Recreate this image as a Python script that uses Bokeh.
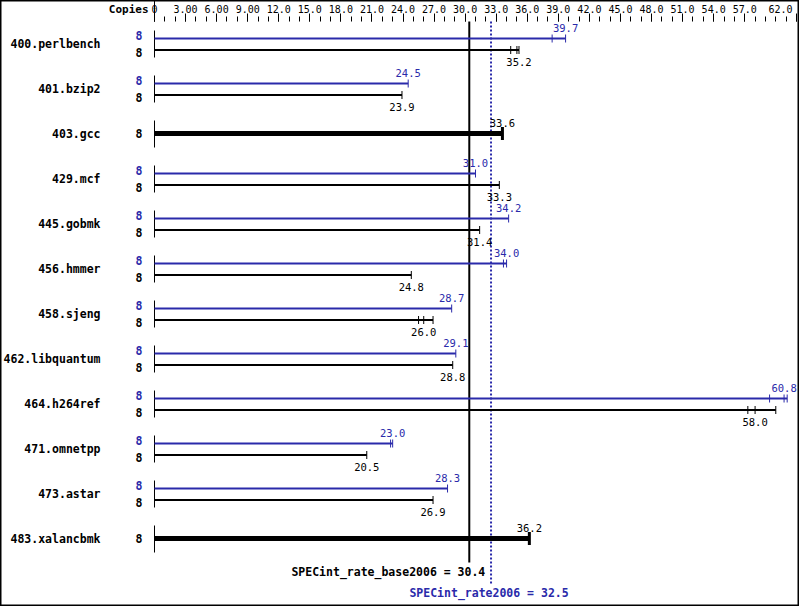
import math
from bokeh.plotting import figure
from bokeh.models import Range1d, LinearAxis, FixedTicker
from bokeh.core.properties import value
from bokeh.embed import file_html
from bokeh.resources import INLINE

# ---------------- data ----------------
benchmarks = ["400.perlbench", "401.bzip2", "403.gcc", "429.mcf", "445.gobmk", "456.hmmer",
              "458.sjeng", "462.libquantum", "464.h264ref", "471.omnetpp", "473.astar", "483.xalancbmk"]
base_copies = [8, 8, 8, 8, 8, 8, 8, 8, 8, 8, 8, 8]
peak_copies = [8, 8, None, 8, 8, 8, 8, 8, 8, 8, 8, None]
base_ratio = [35.2, 23.9, 33.6, 33.3, 31.4, 24.8, 26.0, 28.8, 58.0, 20.5, 26.9, 36.2]
peak_ratio = [39.7, 24.5, None, 31.0, 34.2, 34.0, 28.7, 29.1, 60.8, 23.0, 28.3, None]
base_runs = [[34.4, 35.0, 35.2], [23.9], [33.6], [33.3], [31.4], [24.8],
             [25.5, 26.0, 26.9], [28.8], [57.3, 58.0, 60.0], [20.5], [26.9], [36.2]]
peak_runs = [[38.4, 39.7], [24.5], None, [31.0], [34.2], [33.7, 34.0],
             [28.7], [29.1], [59.4, 60.8, 61.1], [22.8, 23.0], [28.3], None]
tick_values = [0, 3, 6, 9, 12, 15, 18, 21, 24, 27, 30, 33, 36, 39, 42, 45, 48, 51, 54, 57, 62]
tick_labels = ["0", "3.00", "6.00", "9.00", "12.0", "15.0", "18.0", "21.0", "24.0", "27.0",
               "30.0", "33.0", "36.0", "39.0", "42.0", "45.0", "48.0", "51.0", "54.0", "57.0", "62.0"]
base_overall = 30.4
peak_overall = 32.5
base_metric = "SPECint_rate_base2006"
peak_metric = "SPECint_rate2006"
copies_header = "Copies"

# ---------------- layout / style ----------------
BLUE = "#2a2aaa"
BLACK = "#000000"
MONO = "DejaVu Sans Mono"
W, H = 799, 606
X0_PX, X62_PX = 154, 796          # canvas x of value 0 and of 62
PXU = (X62_PX - X0_PX) / 62.0      # pixels per unit
ROW0, PITCH = 43, 45               # canvas y of first row centre, row pitch
PX = 1.0 / PITCH                   # row units per pixel


def ry(canvas_y):
    return (canvas_y - ROW0) / PITCH


p = figure(width=W, height=H,
           x_range=Range1d(-X0_PX / PXU, (W - X0_PX) / PXU),
           y_range=Range1d(ry(H), ry(0)),
           output_backend="svg", toolbar_location=None,
           x_axis_location=None, y_axis_location=None, min_border=0)
p.grid.visible = False
p.outline_line_color = BLACK
p.outline_line_width = 2
p.background_fill_color = "white"
p.border_fill_color = "white"

AXIS_Y = ry(21)
ax = LinearAxis(ticker=FixedTicker(ticks=tick_values, minor_ticks=list(range(0, 63))),
                fixed_location=AXIS_Y)
ax.major_label_overrides = {v: (lab if v != tick_values[-1] else "") for v, lab in zip(tick_values, tick_labels)}
ax.axis_line_color = None
ax.major_tick_out = 8
ax.major_tick_in = 0
ax.minor_tick_out = 5
ax.minor_tick_in = 0
ax.major_tick_line_color = BLACK
ax.minor_tick_line_color = BLACK
ax.major_label_standoff = 1
ax.major_label_text_font = MONO
ax.major_label_text_font_size = "10px"
ax.major_label_text_color = BLACK
p.add_layout(ax, "above")

# header texts and separator
HEAD_Y = ry(8)
p.text(x=[tick_values[-1]], y=[HEAD_Y], text=[tick_labels[-1]], x_offset=-4, text_align="right",
       text_baseline="middle", text_font=value(MONO), text_font_size="10px", text_color=BLACK)
p.text(x=[0], y=[ry(9)], text=[copies_header], x_offset=-6, text_align="right",
       text_baseline="middle", text_font=value(MONO), text_font_size="11px",
       text_font_style="bold", text_color=BLACK)
p.segment(x0=[0], x1=[0], y0=[ry(0)], y1=[AXIS_Y], line_color=BLACK, line_width=1)

# ---------------- rows ----------------
row_y0, row_y1 = [], []
cp_x, cp_y, cp_t, cp_c = [], [], [], []
bar = {"p": [[], []], "b": [[], []], "s": [[], []]}
caps = {"p": [[], []], "b": [[], []], "s": [[], []]}
vl = {"p": [[], [], []], "b": [[], [], []], "s": [[], [], []]}

for i, name in enumerate(benchmarks):
    row_y0.append(i - 13 * PX)
    row_y1.append(i + 14 * PX)
    if peak_ratio[i] is None:
        yb = i
        bar["s"][0].append(max(base_runs[i])); bar["s"][1].append(yb)
        for r in base_runs[i]:
            caps["s"][0].append(r); caps["s"][1].append(yb)
        vl["s"][0].append(base_ratio[i]); vl["s"][1].append(yb - 11 * PX); vl["s"][2].append(f"{base_ratio[i]:.1f}")
        cp_x.append(0); cp_y.append(yb); cp_t.append(str(base_copies[i])); cp_c.append(BLACK)
    else:
        yp = i - 5 * PX
        yb = i + 6.5 * PX
        bar["p"][0].append(max(peak_runs[i])); bar["p"][1].append(yp)
        bar["b"][0].append(max(base_runs[i])); bar["b"][1].append(yb)
        for r in peak_runs[i]:
            caps["p"][0].append(r); caps["p"][1].append(yp)
        for r in base_runs[i]:
            caps["b"][0].append(r); caps["b"][1].append(yb)
        vl["p"][0].append(peak_ratio[i]); vl["p"][1].append(yp - 11 * PX); vl["p"][2].append(f"{peak_ratio[i]:.1f}")
        vl["b"][0].append(base_ratio[i]); vl["b"][1].append(yb + 11.5 * PX); vl["b"][2].append(f"{base_ratio[i]:.1f}")
        cp_x += [0, 0]; cp_y += [i - 8 * PX, i + 9 * PX]
        cp_t += [str(peak_copies[i]), str(base_copies[i])]; cp_c += [BLUE, BLACK]

# overall lines
p.segment(x0=[base_overall], x1=[base_overall], y0=[AXIS_Y], y1=[ry(562)], line_color=BLACK, line_width=2)
p.segment(x0=[peak_overall], x1=[peak_overall], y0=[AXIS_Y], y1=[ry(584)], line_color=BLUE, line_width=2,
          line_dash="2 2")

# left row ticks
p.segment(x0=[0] * len(benchmarks), x1=[0] * len(benchmarks), y0=row_y0, y1=row_y1,
          line_color=BLACK, line_width=1)

# bars
for key, col, lw in (("p", BLUE, 2), ("b", BLACK, 2), ("s", BLACK, 5)):
    n = len(bar[key][0])
    p.segment(x0=[0] * n, x1=bar[key][0], y0=bar[key][1], y1=bar[key][1], line_color=col, line_width=lw)
for key, col, lw, sz in (("p", BLUE, 1, 8), ("b", BLACK, 1, 8), ("s", BLACK, 3, 13)):
    p.scatter(x=caps[key][0], y=caps[key][1], marker="dash", angle=math.pi / 2, size=sz,
              line_color=col, line_width=lw)

# value labels
for key, col in (("p", BLUE), ("b", BLACK), ("s", BLACK)):
    p.text(x=vl[key][0], y=vl[key][1], text=vl[key][2], text_align="center", text_baseline="middle",
           text_font=value(MONO), text_font_size="10.5px", text_color=col)

# names and copies
p.text(x=[0] * len(benchmarks), y=list(range(len(benchmarks))), text=benchmarks, x_offset=-54,
       text_align="right", text_baseline="middle", text_font=value(MONO), text_font_size="11.5px",
       text_font_style="bold", text_color=BLACK)
p.text(x=cp_x, y=cp_y, text=cp_t, x_offset=-12, text_align="right", text_baseline="middle",
       text_font=value(MONO), text_font_size="11.5px", text_font_style="bold", text_color=cp_c)

# overall texts
p.text(x=[base_overall], y=[ry(571)], text=[f"{base_metric} = {base_overall}"], x_offset=16,
       text_align="right", text_baseline="middle", text_font=value(MONO), text_font_size="11.5px",
       text_font_style="bold", text_color=BLACK)
p.text(x=[peak_overall], y=[ry(592)], text=[f"{peak_metric} = {peak_overall}"], x_offset=-2,
       text_align="center", text_baseline="middle", text_font=value(MONO), text_font_size="11.5px",
       text_font_style="bold", text_color=BLUE)

open("out.html", "w").write(file_html(p, INLINE))
